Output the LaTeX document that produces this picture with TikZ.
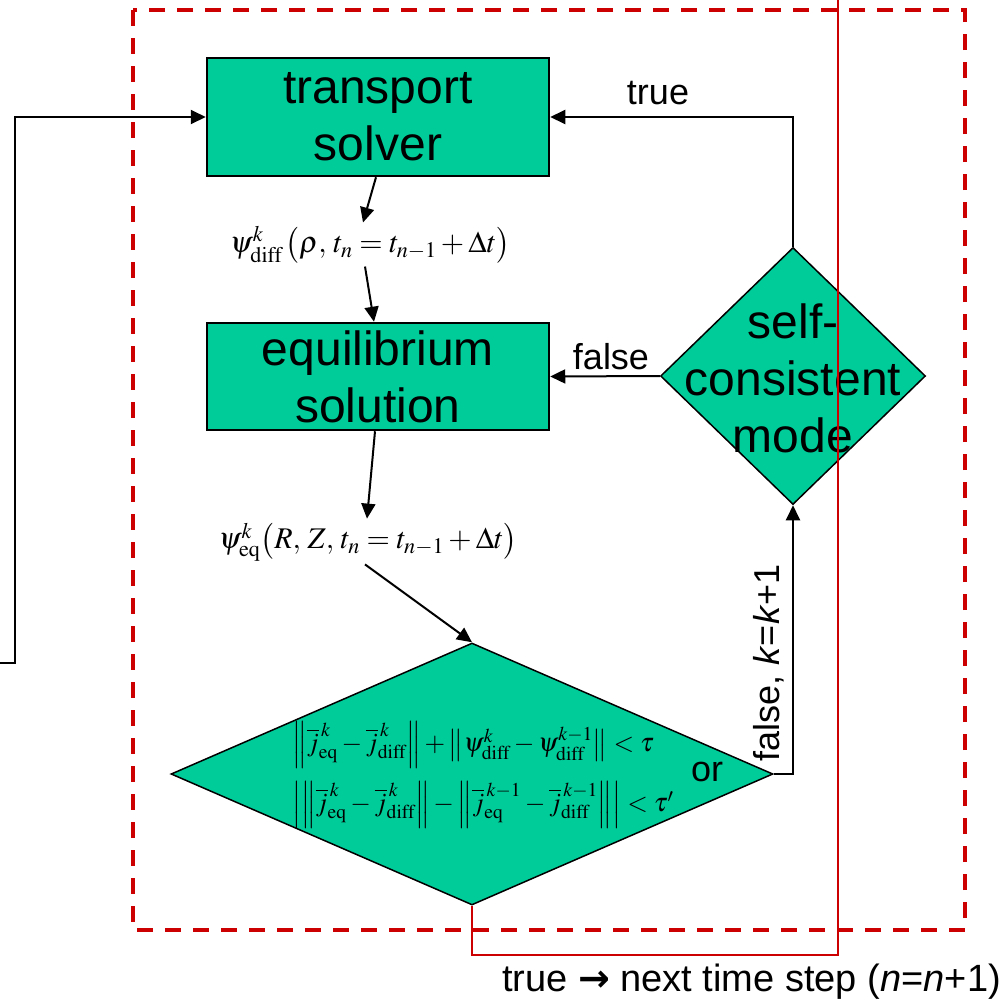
\documentclass[tikz,border=0pt]{standalone}
\usepackage{mathptmx}
\usepackage[no-math]{fontspec}
\setmainfont{Liberation Sans}
\newfontfamily\arrowfont{DejaVu Sans}
\usetikzlibrary{arrows.meta,shapes.geometric}
\definecolor{boxgreen}{RGB}{0,204,153}
\definecolor{dred}{RGB}{204,0,0}
\begin{document}
\begin{tikzpicture}[x=1pt,y=-1pt,
  box/.style={draw=black,line width=2.5pt,fill=boxgreen,minimum width=342pt,inner sep=0pt,align=center,font=\fontsize{48}{57}\selectfont},
  dia/.style={draw=black,line width=1.5pt,fill=boxgreen,diamond,inner sep=0pt},
  conn/.style={draw=black,line width=2pt,-{Triangle[length=15pt,width=14pt]}},
  lbl/.style={font=\fontsize{36}{43}\selectfont,inner sep=0pt},
  mathlbl/.style={font=\fontsize{30}{36}\selectfont,inner sep=0pt},
  formula/.style={font=\fontsize{26.5}{32}\selectfont,inner sep=0pt,anchor=west}]
\useasboundingbox (0,0) rectangle (1005,1002);
% dashed loop frame
\draw[dred,line width=4pt,dash pattern=on 16pt off 12pt] (133,10) rectangle (965,930);
% nodes
\node[box,minimum height=118pt] (ts) at (378,117) {transport\\solver};
\node[box,minimum height=107pt] (eq) at (378,376.5) {equilibrium\\solution};
\node[dia,minimum width=265pt,minimum height=257pt] (sc) at (793,376) {};
\node[font=\fontsize{48}{57}\selectfont,align=center,inner sep=0pt] (sctext) at (793,378) {self-\\consistent\\mode};
\node[dia,minimum width=602pt,minimum height=262pt] (bd) at (472,774) {};
\node[mathlbl] (pd) at (370,245) {$\psi^{k}_{\mathrm{diff}}\,\bigl(\rho,\, t_n = t_{n-1} + \Delta t\bigr)$};
\node[mathlbl] (pe) at (368,542) {$\psi^{k}_{\mathrm{eq}}\bigl(R,\, Z,\, t_n = t_{n-1} + \Delta t\bigr)$};
\node[formula] (f1) at (292,745) {$\left\|\overline{j}^{\,k}_{\mathrm{eq}} - \overline{j}^{\,k}_{\mathrm{diff}}\right\| + \left\|\psi^{k}_{\mathrm{diff}} - \psi^{k-1}_{\mathrm{diff}}\right\| < \tau$};
\node[formula] (f2) at (292,805) {$\left|\left\|\overline{j}^{\,k}_{\mathrm{eq}} - \overline{j}^{\,k}_{\mathrm{diff}}\right\| - \left\|\overline{j}^{\,k-1}_{\mathrm{eq}} - \overline{j}^{\,k-1}_{\mathrm{diff}}\right\|\right| < \tau'$};
\node[lbl] (lor) at (707,772) {or};
\node[lbl] (ltrue) at (658,93) {true};
\node[lbl] (lfalse) at (611,357) {false};
\node[lbl,rotate=90] (lfk) at (769,663) {false, \textit{k}=\textit{k}+1};
\node[lbl,font=\fontsize{38}{45}\selectfont,anchor=east] (lnext) at (1001,982) {true {\arrowfont\bfseries →} next time step (\textit{n}=\textit{n}+1)};
% connectors
\coordinate (lin) at (0,663);
\coordinate (lcorner) at (15,663);
\draw[conn] (lin) -- (lcorner) |- (ts.west);
\draw[conn] (sc.north) |- (ts.east);
\draw[conn] (sc.west) -- (eq.east);
\draw[conn] ([xshift=-2pt]ts.south) -- ([xshift=-7pt,yshift=4pt]pd.north);
\draw[conn] ([xshift=-5pt,yshift=-3pt]pd.south) -- ([xshift=-4pt]eq.north);
\draw[conn] ([xshift=-3pt]eq.south) -- ([xshift=-1pt,yshift=4pt]pe.north);
\draw[conn] ([xshift=-3pt,yshift=-3pt]pe.south) -- (bd.north);
\draw[conn] (bd.east) -| (sc.south);
% red return path
\coordinate (rbot) at (838,955);
\coordinate (rtop) at (838,0);
\draw[dred,line width=2pt] (bd.south) |- (rbot) -- (rtop);
\end{tikzpicture}
\end{document}
